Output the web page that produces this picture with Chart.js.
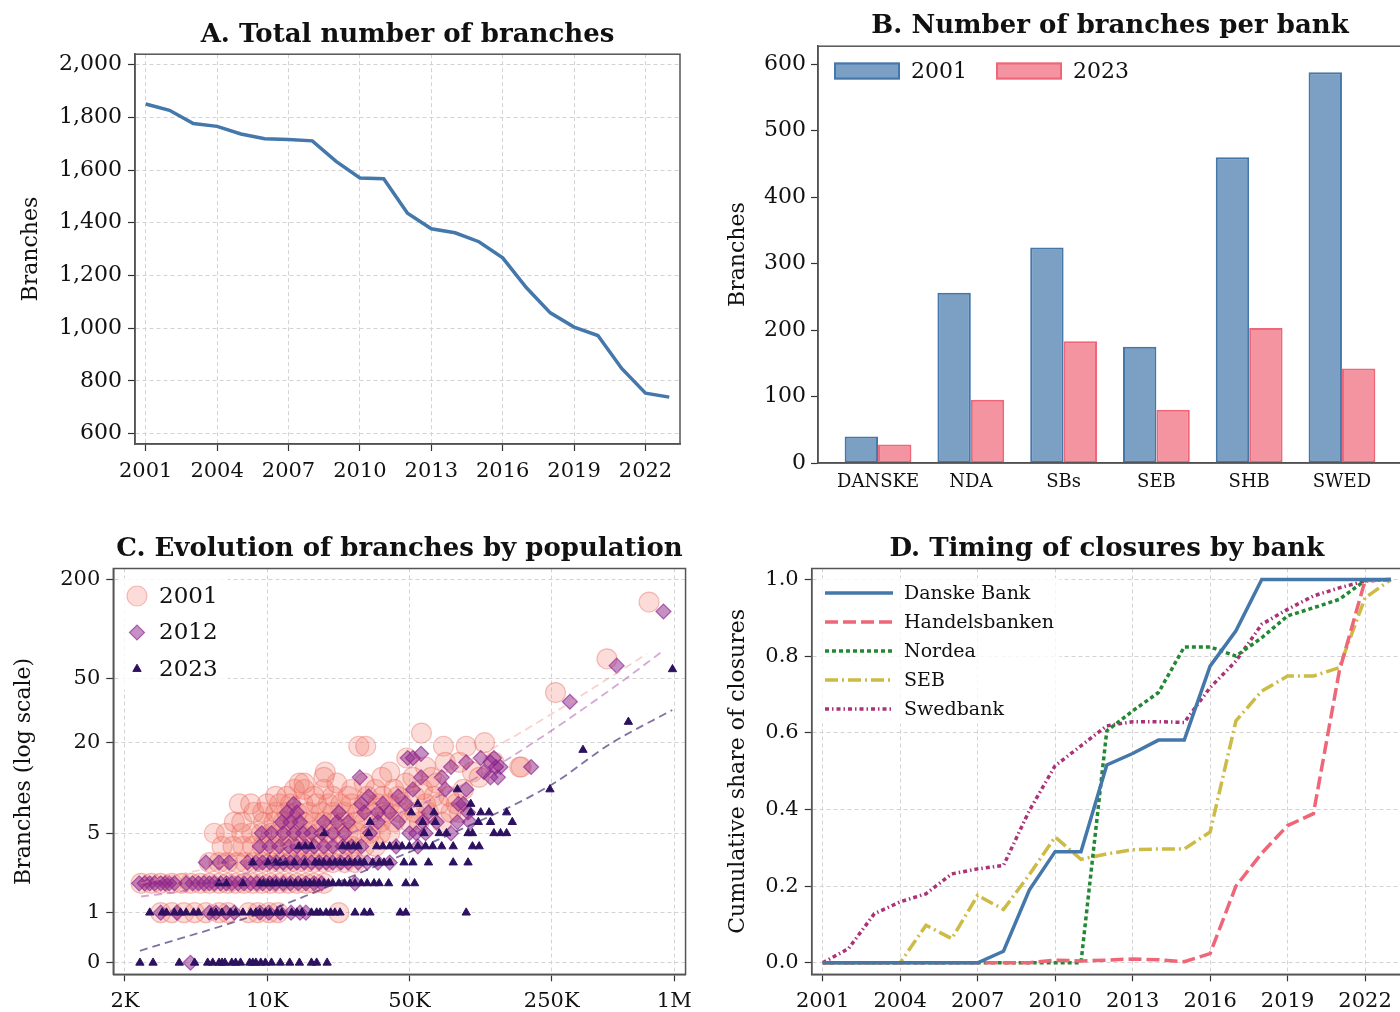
<!DOCTYPE html>
<html>
<head>
<meta charset="utf-8">
<script src="https://cdn.jsdelivr.net/npm/chart.js@4.4.1/dist/chart.umd.min.js"></script>
<style>
  html, body { margin: 0; padding: 0; background: #fff; width: 1400px; height: 1012px; overflow: hidden; }
  canvas { position: absolute; }
</style>
</head>
<body>
<canvas id="chartA" width="700" height="506" style="left:0;top:0"></canvas>
<canvas id="chartB" width="720" height="506" style="left:700px;top:0"></canvas>
<canvas id="chartC" width="700" height="506" style="left:0;top:506px"></canvas>
<canvas id="chartD" width="720" height="506" style="left:700px;top:506px"></canvas>
<script>
// A. total branches per year
const years = [2001, 2002, 2003, 2004, 2005, 2006, 2007, 2008, 2009, 2010, 2011, 2012,
               2013, 2014, 2015, 2016, 2017, 2018, 2019, 2020, 2021, 2022, 2023];
const totalBranches = [1851, 1827, 1777, 1766, 1737, 1719, 1716, 1711, 1633, 1570, 1567, 1436,
                       1377, 1362, 1328, 1267, 1153, 1058, 1004, 972, 847, 753, 738];
const yearTicks = [2001, 2004, 2007, 2010, 2013, 2016, 2019, 2022];
const aTicksY = [600, 800, 1000, 1200, 1400, 1600, 1800, 2000];

// B. branches per bank
const banks = ['DANSKE', 'NDA', 'SBs', 'SEB', 'SHB', 'SWED'];
const branches2001 = [40, 256, 324, 175, 460, 588];
const branches2023 = [28, 95, 183, 80, 203, 142];
const bTicksY = [0, 100, 200, 300, 400, 500, 600];

// C. municipalities: [number of branches, populations in thousands]
const muni2001 = [
  [1, [3.0, 3.4, 3.9, 4.4, 5.0, 5.8, 6.4, 8.1, 9.0, 10.2, 11.3, 22.5]],
  [2, [2.4, 2.7, 3.0, 3.4, 3.8, 4.2, 4.7, 5.2, 5.8, 6.4, 7.0, 7.7, 8.5, 9.4, 10.4, 11.5, 12.7, 14, 15.5, 17, 19]],
  [3, [5.2, 5.8, 6.4, 7.1, 7.8, 8.6, 9.5, 10.5, 11.6, 12.8, 14, 15.5, 17, 19, 21, 24, 27]],
  [4, [6.0, 6.8, 7.6, 8.5, 9.5, 10.6, 11.8, 13, 14.5, 16, 18, 20, 23, 26, 30, 34]],
  [5, [5.5, 6.3, 7.5, 8.4, 9.4, 10.5, 11.7, 13, 14.5, 16, 18, 20, 22.5, 25, 28, 32, 36, 40]],
  [6, [6.9, 7.5, 9.6, 10.8, 12, 13.5, 15, 17, 19, 21.5, 24, 27, 30, 36, 42, 50, 56, 72]],
  [7, [8.6, 9.5, 11, 12.5, 14, 16, 18.5, 21, 24, 28, 33, 38, 45, 53, 62, 80, 88]],
  [8, [7.3, 8.3, 10, 11.5, 13, 15, 17.5, 20, 23, 26, 30, 35, 40, 46, 60, 70, 85]],
  [9, [11, 12.5, 17, 21, 25, 31, 37, 44, 53, 66, 78]],
  [10, [13.6, 15.2, 19, 26, 34, 42, 58, 92]],
  [11, [14.4, 15.2, 22, 30, 48, 68]],
  [12, [19, 36.6, 52, 64, 110]],
  [13, [19.3, 40, 102]],
  [14, [60, 174, 177]],
  [15, [75, 88, 130]],
  [16, [48.5]],
  [19, [28.2, 30.5, 73.5, 95]],
  [20, [117]],
  [23, [57.3]],
  [41, [261]],
  [66, [467]],
  [146, [752]]
];
const muni2012 = [
  [0, [4.2]],
  [1, [3.0, 3.6, 5.2, 5.6, 6.3, 6.9, 9.2, 10.2, 11.6, 13.1, 14.5, 15.5]],
  [2, [2.35, 2.5, 2.65, 2.8, 3.0, 3.15, 3.3, 3.5, 4.0, 4.3, 4.6, 4.9, 5.2, 5.5, 5.9, 6.3, 6.7, 7.2, 7.7, 8.3, 8.9, 9.5, 10.3, 11, 12, 13, 14.2, 15.5, 17, 18.5, 27]],
  [3, [5.0, 5.8, 6.5, 8.0, 8.8, 9.5, 10.3, 11.1, 12, 13, 14, 15.2, 16.5, 18, 19.5, 21, 23, 25, 28, 31, 35, 40]],
  [4, [9.2, 10.3, 11.5, 12.8, 14, 15.5, 17, 19, 21, 23.5, 26, 29, 43, 55]],
  [5, [9.4, 10.5, 12, 13.5, 15, 16.5, 18.5, 21, 24, 32, 50, 54, 60, 80]],
  [6, [11.8, 13, 14.5, 19, 22, 25, 35, 44, 58, 68, 86, 99]],
  [7, [12.5, 14, 22.5, 30, 35, 40, 62, 97]],
  [8, [13.5, 29, 37, 48, 87, 92]],
  [9, [31.5, 44]],
  [10, [52, 75, 95]],
  [12, [28.5, 57, 72, 125, 136]],
  [13, [116]],
  [14, [80, 133, 140, 198]],
  [15, [95, 125]],
  [16, [49, 52, 112, 130]],
  [17, [57]],
  [36, [307]],
  [60, [521]],
  [128, [885]]
];
const muni2023 = [
  [0, [2.37, 2.75, 3.7, 4.4, 5.1, 5.4, 5.8, 6.0, 6.2, 6.7, 7.0, 7.4, 8.2, 8.5, 8.8, 9.3, 9.8, 10.5, 11.6, 12.9, 14.4, 16.5, 17.5, 19.7]],
  [1, [2.65, 3.05, 3.2, 3.5, 3.75, 4.0, 4.35, 4.6, 5.3, 5.6, 6.0, 6.6, 7.0, 7.6, 8.3, 8.8, 9.2, 9.8, 10.3, 11.2, 11.8, 13.2, 14, 14.8, 16.5, 17.5, 18.2, 19.5, 20.5, 21.5, 22.8, 27, 30, 32, 45, 48, 95]],
  [2, [5.8, 6.3, 7.6, 9.2, 9.6, 10.1, 10.6, 11.1, 11.8, 12.3, 13, 13.8, 14.6, 15.4, 16.2, 17, 18, 19, 20, 21, 22.5, 24, 25.5, 27, 29, 31, 33.5, 35.5, 39.5, 48, 53]],
  [3, [8.5, 10.1, 11, 11.6, 12.3, 13.6, 15.3, 17.2, 18, 19, 20.3, 21.5, 22.8, 24, 25.5, 27, 28.5, 30, 33, 35.5, 37.5, 40, 47, 52, 62, 82, 97]],
  [4, [14.3, 15.4, 16.5, 23.5, 25, 26.5, 28, 34.5, 37, 40, 43, 46, 50, 55, 60, 65, 72, 82, 102, 110]],
  [5, [19, 31.5, 59, 70, 76, 97, 102, 130, 140, 150]],
  [6, [32, 58, 67, 109, 125, 160]],
  [7, [51, 66, 100, 112, 123, 150]],
  [8, [55, 100]],
  [10, [86, 245]],
  [18, [356]],
  [27, [595]],
  [57, [980]]
];
// fitted curves (population in thousands -> branches)
const fit2001Pop = [2.4, 10, 30, 60, 156, 405, 735];
const fit2001 = [2.0, 3.6, 7, 11, 21.2, 44.2, 71];
const fit2012Pop = [2.4, 4.2, 10, 30, 105, 199, 489, 883];
const fit2012 = [1.5, 1.75, 2.8, 5.5, 11.8, 19.7, 43, 74];
const fit2023Pop = [2.37, 10, 35.3, 74.8, 248, 486, 977];
const fit2023 = [0.18, 1.05, 2.87, 4.73, 10.7, 19.7, 32];
const cTicksX = [2000, 10000, 50000, 250000, 1000000];
const cTicksXLabels = ['2K', '10K', '50K', '250K', '1M'];
const cTicksY = [0, 1, 5, 20, 50, 200];

// D. cumulative share of closures
const danske = [0, 0, 0, 0, 0, 0, 0, 0.03, 0.19, 0.29, 0.29, 0.516, 0.546, 0.581, 0.581, 0.774, 0.866, 1, 1, 1, 1, 1, 1];
const handels = [0, 0, 0, 0, 0, 0, 0, 0, 0, 0.007, 0.005, 0.007, 0.01, 0.008, 0.003, 0.024, 0.2, 0.286, 0.358, 0.389, 0.76, 0.997, 1];
const nordea = [0, 0, 0, 0, 0, 0, 0, 0, 0, 0, 0, 0.605, 0.657, 0.705, 0.824, 0.824, 0.8, 0.848, 0.905, 0.926, 0.948, 0.997, 1];
const seb = [0, 0, 0, 0, 0.098, 0.063, 0.176, 0.139, 0.23, 0.328, 0.27, 0.284, 0.295, 0.297, 0.297, 0.341, 0.631, 0.709, 0.748, 0.748, 0.77, 0.952, 1];
const swed = [0, 0.037, 0.128, 0.159, 0.18, 0.232, 0.245, 0.254, 0.397, 0.514, 0.566, 0.618, 0.629, 0.629, 0.627, 0.718, 0.787, 0.883, 0.922, 0.957, 0.978, 0.996, 1];
const dTicksY = [0, 0.2, 0.4, 0.6, 0.8, 1.0];

Chart.defaults.font.family = "'DejaVu Serif', serif";
Chart.defaults.color = '#111';
Chart.defaults.animation = false;
Chart.defaults.plugins.legend.display = false;
Chart.defaults.plugins.tooltip.enabled = false;

const series = vals => years.map((y, i) => ({ x: y, y: vals[i] }));
const toPoints = groups => groups.flatMap(([b, pops]) => pops.map(p => ({ x: p * 1000, y: Math.log1p(b) })));
const toCurve = (pops, vals) => pops.map((p, i) => ({ x: p * 1000, y: Math.log1p(vals[i]) }));
const setTicks = vals => s => { s.ticks = vals.map(v => ({ value: v })); };

function grid(onArea) {
  return { display: true, drawOnChartArea: onArea, color: '#d3d3d3', lineWidth: 1,
           drawTicks: true, tickLength: 7, tickColor: '#333', tickWidth: 1.2, tickBorderDash: [] };
}
const border = { display: true, color: '#444', width: 1.5, dash: [4, 3] };
function title(text, top, bottom) {
  return { display: true, text, fullSize: false, color: '#111',
           font: { size: 26, weight: 'bold' }, padding: { top, bottom } };
}
function axisTitle(text, pad) {
  return { display: true, text, color: '#111', font: { size: 22 }, padding: { top: pad, bottom: 0 } };
}

// box around the axes
const framePlugin = {
  id: 'frame',
  afterDatasetsDraw(chart) {
    const { ctx, chartArea: a } = chart;
    ctx.save();
    ctx.strokeStyle = '#555';
    ctx.lineWidth = 1.5;
    ctx.strokeRect(a.left, a.top, a.right - a.left, a.bottom - a.top);
    ctx.restore();
  }
};

// legend drawn inside the plot
const innerLegend = {
  id: 'innerLegend',
  afterDraw(chart, args, o) {
    if (!o.kind) return;
    const ctx = chart.ctx;
    ctx.save();
    if (o.bg) {
      ctx.fillStyle = 'rgba(255,255,255,0.8)';
      ctx.fillRect(o.bg[0], o.bg[1], o.bg[2], o.bg[3]);
    }
    o.items.forEach((idx, i) => {
      const ds = chart.data.datasets[idx];
      const x = o.xs ? o.xs[i] : o.x;
      const y = o.xs ? o.y : o.y + i * o.dy;
      let tx = x + o.textGap;
      if (o.kind === 'box') {
        ctx.fillStyle = ds.backgroundColor;
        ctx.fillRect(x, y - 8.5, 66, 17);
        ctx.strokeStyle = ds.borderColor;
        ctx.lineWidth = 2;
        ctx.strokeRect(x + 1, y - 7.5, 64, 15);
        tx = x + 66 + o.textGap;
      } else if (o.kind === 'marker') {
        ctx.fillStyle = ds.backgroundColor;
        ctx.strokeStyle = ds.borderColor;
        ctx.lineWidth = ds.borderWidth;
        Chart.helpers.drawPoint(ctx, { pointStyle: ds.pointStyle, radius: ds.pointRadius, rotation: 0, borderWidth: ds.borderWidth }, x, y);
      } else {
        ctx.strokeStyle = ds.borderColor;
        ctx.lineWidth = ds.borderWidth;
        ctx.setLineDash(ds.borderDash || []);
        ctx.beginPath();
        ctx.moveTo(x, y);
        ctx.lineTo(x + 68, y);
        ctx.stroke();
        ctx.setLineDash([]);
        tx = x + 68 + o.textGap;
      }
      ctx.fillStyle = '#111';
      ctx.font = o.font + "px 'DejaVu Serif', serif";
      ctx.textBaseline = 'middle';
      ctx.fillText(ds.label, tx, y + 1);
    });
    ctx.restore();
  }
};

// A
new Chart(document.getElementById('chartA'), {
  type: 'line',
  data: { datasets: [{ label: 'Branches', data: series(totalBranches), borderColor: '#4477AA',
                       borderWidth: 3.5, pointRadius: 0, tension: 0 }] },
  options: {
    responsive: false,
    layout: { padding: { right: 20 } },
    scales: {
      x: { type: 'linear', min: 2000.55, max: 2023.45, afterBuildTicks: setTicks(yearTicks),
           afterFit: s => { s.height = 62; }, grid: grid(true), border,
           ticks: { callback: v => String(v), font: { size: 21 }, padding: 8, maxRotation: 0, autoSkip: false } },
      y: { min: 560, max: 2040, afterBuildTicks: setTicks(aTicksY),
           afterFit: s => { s.width = 135; }, grid: grid(true), border,
           title: axisTitle('Branches', 18),
           ticks: { callback: v => v.toLocaleString('en-US'), font: { size: 22 }, padding: 6 } }
    },
    plugins: { title: title('A. Total number of branches', 20, 3) }
  },
  plugins: [framePlugin]
});

// B
new Chart(document.getElementById('chartB'), {
  type: 'bar',
  data: { datasets: [
    { label: '2001', data: banks.map((b, i) => ({ x: i, y: branches2001[i] })),
      backgroundColor: 'rgba(68,119,170,0.7)', borderColor: '#4477AA', borderWidth: 2, borderSkipped: false,
      categoryPercentage: 0.72, barPercentage: 1 },
    { label: '2023', data: banks.map((b, i) => ({ x: i, y: branches2023[i] })),
      backgroundColor: 'rgba(238,102,119,0.7)', borderColor: '#EE6677', borderWidth: 2, borderSkipped: false,
      categoryPercentage: 0.72, barPercentage: 1 }
  ] },
  options: {
    responsive: false,
    layout: { padding: { right: 18 } },
    scales: {
      x: { type: 'linear', offset: false, min: -0.647, max: 5.647, afterBuildTicks: setTicks(banks.map((b, i) => i)),
           afterFit: s => { s.height = 43; },
           grid: { display: false, drawTicks: false, offset: false }, border: { color: '#444', width: 1.5 },
           ticks: { callback: v => banks[v], font: { size: 18 }, padding: 9, maxRotation: 0, autoSkip: false } },
      y: { min: 0, max: 627, afterBuildTicks: setTicks(bTicksY),
           afterFit: s => { s.width = 118; }, grid: grid(false), border: { color: '#444', width: 1.5 },
           title: axisTitle('Branches', 25),
           ticks: { font: { size: 22 }, padding: 5 } }
    },
    plugins: {
      title: title('B. Number of branches per bank', 11, 4),
      innerLegend: { kind: 'box', items: [0, 1], xs: [134, 296], y: 71, textGap: 11, font: 22 }
    }
  },
  plugins: [framePlugin, innerLegend]
});

// C
new Chart(document.getElementById('chartC'), {
  type: 'scatter',
  data: { datasets: [
    { label: '2001', data: toPoints(muni2001), pointStyle: 'circle', pointRadius: 10,
      backgroundColor: 'rgba(240,115,100,0.25)', borderColor: 'rgba(235,100,90,0.4)', borderWidth: 1.2, order: 3 },
    { label: '2012', data: toPoints(muni2012), pointStyle: 'rectRot', pointRadius: 7.5,
      backgroundColor: 'rgba(140,35,140,0.5)', borderColor: 'rgba(140,35,140,0.65)', borderWidth: 1.2, order: 2 },
    { label: '2023', data: toPoints(muni2023), pointStyle: 'triangle', pointRadius: 4.8,
      backgroundColor: '#2d1160', borderColor: '#2d1160', borderWidth: 1, order: 1 },
    { label: 'fit 2001', data: toCurve(fit2001Pop, fit2001), showLine: true, pointRadius: 0,
      borderColor: 'rgba(245,150,150,0.45)', borderWidth: 1.8, borderDash: [8, 5], cubicInterpolationMode: 'monotone', order: 0 },
    { label: 'fit 2012', data: toCurve(fit2012Pop, fit2012), showLine: true, pointRadius: 0,
      borderColor: 'rgba(170,80,170,0.5)', borderWidth: 1.8, borderDash: [8, 5], cubicInterpolationMode: 'monotone', order: 0 },
    { label: 'fit 2023', data: toCurve(fit2023Pop, fit2023), showLine: true, pointRadius: 0,
      borderColor: 'rgba(45,17,96,0.6)', borderWidth: 1.8, borderDash: [8, 5], cubicInterpolationMode: 'monotone', order: 0 }
  ] },
  options: {
    responsive: false,
    layout: { padding: { right: 12.7 } },
    scales: {
      x: { type: 'logarithmic', min: 1754, max: 1136000, afterBuildTicks: setTicks(cTicksX),
           afterFit: s => { s.height = 37.7; }, grid: grid(true), border,
           ticks: { callback: (v, i) => cTicksXLabels[i], font: { size: 21 }, padding: 8, maxRotation: 0, autoSkip: false } },
      y: { type: 'linear', min: -0.16, max: 5.455, afterBuildTicks: setTicks(cTicksY.map(v => Math.log1p(v))),
           afterFit: s => { s.width = 113.3; }, grid: grid(true), border,
           title: axisTitle('Branches (log scale)', 11),
           ticks: { callback: (v, i) => String(cTicksY[i]), font: { size: 21 }, padding: 6 } }
    },
    plugins: {
      title: title('C. Evolution of branches by population', 28, 3.3),
      innerLegend: { kind: 'marker', items: [0, 1, 2], x: 137, y: 90, dy: 36.5, textGap: 22, font: 23,
                     bg: [120, 72, 108, 112] }
    }
  },
  plugins: [framePlugin, innerLegend]
});

// D
const dLine = (label, vals, color, dash) => ({ label, data: series(vals), borderColor: color, borderWidth: 3.5,
  borderDash: dash, pointRadius: 0, tension: 0, borderCapStyle: 'butt' });
new Chart(document.getElementById('chartD'), {
  type: 'line',
  data: { datasets: [
    dLine('Danske Bank', danske, '#4477AA', []),
    dLine('Handelsbanken', handels, '#EE6677', [13, 5]),
    dLine('Nordea', nordea, '#228833', [4, 3]),
    dLine('SEB', seb, '#CCBB44', [13, 4, 2, 4]),
    dLine('Swedbank', swed, '#AA3377', [4, 3, 1.5, 3])
  ] },
  options: {
    responsive: false,
    layout: { padding: { right: 18 } },
    scales: {
      x: { type: 'linear', min: 2000.575, max: 2023.43, afterBuildTicks: setTicks(yearTicks),
           afterFit: s => { s.height = 37.7; }, grid: grid(true), border,
           ticks: { callback: v => String(v), font: { size: 21 }, padding: 8, maxRotation: 0, autoSkip: false } },
      y: { min: -0.03, max: 1.0286, afterBuildTicks: setTicks(dTicksY),
           afterFit: s => { s.width = 111.7; }, grid: grid(true), border,
           title: axisTitle('Cumulative share of closures', 25),
           ticks: { callback: v => v.toFixed(1), font: { size: 21 }, padding: 6 } }
    },
    plugins: {
      title: title('D. Timing of closures by bank', 28, 3.3),
      innerLegend: { kind: 'line', items: [0, 1, 2, 3, 4], x: 125, y: 87, dy: 29, textGap: 11, font: 19,
                     bg: [118, 72, 242, 146] }
    }
  },
  plugins: [framePlugin, innerLegend]
});
</script>
</body>
</html>
